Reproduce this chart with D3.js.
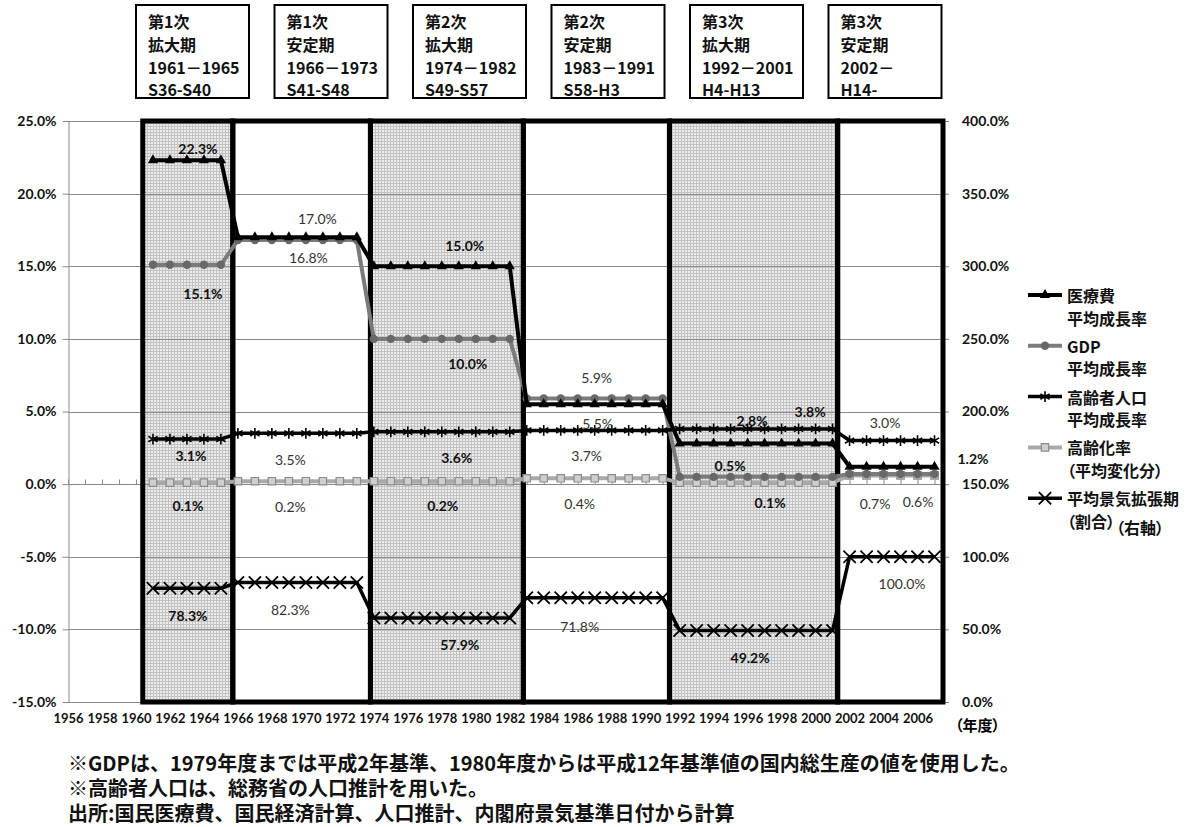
<!DOCTYPE html>
<html>
<head>
<meta charset="utf-8">
<script src="https://cdn.jsdelivr.net/npm/d3@7"></script>
<style>
  body { margin: 0; background: #fff; }
  svg { display: block; }
  .jp { font-family: "Noto Sans CJK JP", "Noto Sans", sans-serif; }
  .num { font-family: Lato, "Noto Sans", sans-serif; }
</style>
</head>
<body>
<svg id="chart" width="1188" height="827"></svg>
<script>
// ---- Business-cycle phases (expansion / stable) ----
const phaseTitles = [
  ["第1次", "拡大期", "1961－1965", "S36-S40"],
  ["第1次", "安定期", "1966－1973", "S41-S48"],
  ["第2次", "拡大期", "1974－1982", "S49-S57"],
  ["第2次", "安定期", "1983－1991", "S58-H3"],
  ["第3次", "拡大期", "1992－2001", "H4-H13"],
  ["第3次", "安定期", "2002－", "H14-"]
];
const phaseStartYear = [1961, 1966, 1974, 1983, 1992, 2002];
const phaseEndYear   = [1965, 1973, 1982, 1991, 2001, 2007];
const phaseShaded    = [true, false, true, false, true, false];
// frame edges of each phase, in fiscal years
const phaseEdges = [1960.4, 1965.7, 1973.8, 1982.8, 1991.4, 2001.3, 2007.5];

// ---- Period averages (%) ----
const medicalGrowth    = [22.3, 17.0, 15.0, 5.5, 2.8, 1.2];   // 医療費 平均成長率
const gdpGrowth        = [15.1, 16.8, 10.0, 5.9, 0.5, 0.7];   // GDP 平均成長率
const elderlyPopGrowth = [3.1, 3.5, 3.6, 3.7, 3.8, 3.0];      // 高齢者人口 平均成長率
const agingRateChange  = [0.1, 0.2, 0.2, 0.4, 0.1, 0.6];      // 高齢化率（平均変化分）
const expansionShare   = [78.3, 82.3, 57.9, 71.8, 49.2, 100.0]; // 平均景気拡張期（割合）右軸

// ---- Axis ticks ----
const leftTicks  = [-15, -10, -5, 0, 5, 10, 15, 20, 25];
const rightTicks = [0, 50, 100, 150, 200, 250, 300, 350, 400];
const yearLabels = [1956, 1958, 1960, 1962, 1964, 1966, 1968, 1970, 1972, 1974, 1976, 1978, 1980,
                    1982, 1984, 1986, 1988, 1990, 1992, 1994, 1996, 1998, 2000, 2002, 2004, 2006];

const notes = [
  "※GDPは、1979年度までは平成2年基準、1980年度からは平成12年基準値の国内総生産の値を使用した。",
  "※高齢者人口は、総務省の人口推計を用いた。",
  "出所:国民医療費、国民経済計算、人口推計、内閣府景気基準日付から計算"
];

// ---- Layout ----
const plot = { left: 68, right: 943, top: 121, bottom: 702 };
const svg = d3.select("#chart");

const x  = d3.scaleLinear().domain([1956, 2007.5]).range([plot.left, plot.right]);
const yL = d3.scaleLinear().domain([-15, 25]).range([plot.bottom, plot.top]);
const yR = d3.scaleLinear().domain([0, 400]).range([plot.bottom, plot.top]);

const fmtPct = v => d3.format(".1f")(v).replace("\u2212", "-") + "%";
const GRID = "#8a8a8a";

// stippled fill for expansion phases
const defs = svg.append("defs");
const pat = defs.append("pattern").attr("id", "stipple")
  .attr("width", 3).attr("height", 3).attr("patternUnits", "userSpaceOnUse");
pat.append("rect").attr("width", 3).attr("height", 3).attr("fill", "#c2c2c2");
pat.append("rect").attr("x", 1).attr("y", 1).attr("width", 2).attr("height", 2).attr("fill", "#ececec");

const phases = phaseStartYear.map((s, i) => ({
  i, start: s, end: phaseEndYear[i], x0: phaseEdges[i], x1: phaseEdges[i + 1], shaded: phaseShaded[i]
}));

svg.append("g").selectAll("rect")
  .data(phases.filter(p => p.shaded)).join("rect")
  .attr("x", p => x(p.x0)).attr("y", yL(25))
  .attr("width", p => x(p.x1) - x(p.x0)).attr("height", yL(-15) - yL(25))
  .attr("fill", "url(#stipple)");

// horizontal gridlines
svg.append("g").selectAll("line").data(leftTicks).join("line")
  .attr("x1", plot.left).attr("x2", plot.right)
  .attr("y1", d => Math.round(yL(d)) + 0.5).attr("y2", d => Math.round(yL(d)) + 0.5)
  .attr("stroke", GRID).attr("stroke-width", 1);

// left axis
const gL = svg.append("g").attr("transform", `translate(${plot.left + 0.5},0)`)
  .call(d3.axisLeft(yL).tickValues(leftTicks).tickFormat(fmtPct).tickSize(6).tickSizeOuter(0).tickPadding(6));
gL.select(".domain").attr("stroke", GRID);
gL.selectAll(".tick line").attr("stroke", GRID);
gL.selectAll("text").attr("class", "num").attr("font-size", 14).attr("font-weight", "bold").attr("fill", "#111");

// right axis
const gR = svg.append("g").attr("transform", `translate(${plot.right},0)`)
  .call(d3.axisRight(yR).tickValues(rightTicks).tickFormat(fmtPct).tickSize(6).tickSizeOuter(0).tickPadding(13));
gR.select(".domain").attr("stroke", GRID);
gR.selectAll(".tick line").attr("stroke", GRID);
gR.selectAll("text").attr("class", "num").attr("font-size", 14).attr("font-weight", "bold").attr("fill", "#111");

// year tick marks on the zero line
const gZ = svg.append("g").attr("transform", `translate(0,${Math.round(yL(0)) + 0.5})`)
  .call(d3.axisTop(x).tickValues(d3.range(1956, 2008)).tickSize(5).tickFormat(""));
gZ.select(".domain").remove();
gZ.selectAll(".tick line").attr("stroke", GRID);

// year labels along the bottom
const gB = svg.append("g").attr("transform", `translate(0,${plot.bottom})`)
  .call(d3.axisBottom(x).tickValues(yearLabels).tickSize(0).tickPadding(12).tickFormat(d3.format("d")));
gB.select(".domain").remove();
gB.selectAll("text").attr("class", "num").attr("font-size", 13).attr("font-weight", "bold").attr("fill", "#111");

svg.append("text").attr("class", "jp")
  .attr("x", 955).attr("y", 724).attr("dominant-baseline", "central")
  .attr("font-size", 15).attr("font-weight", "bold").style("font-feature-settings", "'palt'")
  .text("（年度）");

// phase frames
svg.append("g").selectAll("rect").data(phases).join("rect")
  .attr("x", p => x(p.x0)).attr("y", yL(25))
  .attr("width", p => x(p.x1) - x(p.x0)).attr("height", yL(-15) - yL(25))
  .attr("fill", "none").attr("stroke", "#000").attr("stroke-width", 5);

// ---- Series ----
function yearly(values) {
  const out = [];
  phaseStartYear.forEach((s, i) => {
    for (let yr = s; yr <= phaseEndYear[i]; yr++) out.push({ year: yr, value: values[i], phase: i });
  });
  return out;
}

const series = [
  { key: "aging", values: agingRateChange, y: yL, color: "#a9a9a9", width: 4,
    symbol: d3.symbolSquare, size: 55, fill: "#cfcfcf", stroke: "#8c8c8c", sw: 1.2,
    legend: ["高齢化率", "（平均変化分）"] },
  { key: "gdp", values: gdpGrowth, y: yL, color: "#7b7b7b", width: 4,
    symbol: d3.symbolCircle, size: 55, fill: "#686868", stroke: "none", sw: 0,
    legend: ["GDP", "平均成長率"] },
  { key: "medical", values: medicalGrowth, y: yL, color: "#000", width: 4,
    symbol: d3.symbolTriangle, size: 45, fill: "#000", stroke: "none", sw: 0,
    legend: ["医療費", "平均成長率"] },
  { key: "elderly", values: elderlyPopGrowth, y: yL, color: "#000", width: 3.5,
    symbol: d3.symbolAsterisk, size: 80, fill: "none", stroke: "#000", sw: 1.6,
    legend: ["高齢者人口", "平均成長率"] },
  { key: "expansion", values: expansionShare, y: yR, color: "#000", width: 3.5,
    symbol: d3.symbolTimes, size: 100, fill: "none", stroke: "#000", sw: 1.8,
    legend: ["平均景気拡張期", "（割合）"] }
];

const gS = svg.append("g");
series.forEach(s => {
  const pts = yearly(s.values);
  const line = d3.line().x(d => x(d.year)).y(d => s.y(d.value));
  gS.append("path").datum(pts).attr("d", line)
    .attr("fill", "none").attr("stroke", s.color).attr("stroke-width", s.width)
    .attr("stroke-linejoin", "round");
  gS.append("g").selectAll("path").data(pts).join("path")
    .attr("transform", d => `translate(${x(d.year)},${s.y(d.value)})`)
    .attr("d", d3.symbol(s.symbol, s.size))
    .attr("fill", s.fill).attr("stroke", s.stroke).attr("stroke-width", s.sw);
});

// ---- Value labels: offsets (px) from each phase's mid-year point ----
const labelOffsets = {
  medical:   [[11, -12], [20, -19], [23, -21], [3, 19], [-4, -23], [81, -8]],
  gdp:       [[16, 29], [11, 17], [26, 25], [2, -21], [-26, -11], [-17, 30]],
  elderly:   [[4, 16], [-7, 26], [15, 26], [-8, 25], [54, -17], [-7, -18]],
  aging:     [[1, 23], [-7, 25], [1, 24], [-15, 25], [14, 20], [26, 26]],
  expansion: [[1, 27], [-7, 27], [18, 27], [-15, 29], [-6, 27], [10, 27]]
};

const labels = [];
series.forEach(s => {
  s.values.forEach((v, i) => {
    const mid = (phaseStartYear[i] + phaseEndYear[i]) / 2;
    const off = labelOffsets[s.key][i];
    const outside = x(mid) + off[0] > plot.right;
    labels.push({
      text: fmtPct(v),
      x: x(mid) + off[0],
      y: s.y(v) + off[1],
      bold: phaseShaded[i] || outside
    });
  });
});

svg.append("g").selectAll("text").data(labels).join("text")
  .attr("class", "num")
  .attr("x", d => d.x).attr("y", d => d.y)
  .attr("text-anchor", "middle").attr("dominant-baseline", "central")
  .attr("font-size", 14)
  .attr("font-weight", d => d.bold ? "bold" : "normal")
  .attr("fill", d => d.bold ? "#111" : "#333")
  .text(d => d.text);

// ---- Legend ----
const legendOrder = ["medical", "gdp", "elderly", "aging", "expansion"];
const gLeg = svg.append("g").attr("transform", "translate(1028,295)");
legendOrder.forEach((k, i) => {
  const s = series.find(d => d.key === k);
  const g = gLeg.append("g").attr("transform", `translate(0,${i * 50.8})`);
  g.append("line").attr("x1", 0).attr("x2", 34).attr("y1", 0).attr("y2", 0)
    .attr("stroke", s.color).attr("stroke-width", s.width);
  g.append("path").attr("transform", "translate(17,0)")
    .attr("d", d3.symbol(s.symbol, s.size))
    .attr("fill", s.fill).attr("stroke", s.stroke).attr("stroke-width", s.sw);
  g.selectAll("text").data(s.legend).join("text")
    .attr("class", "jp")
    .attr("x", 39).attr("y", (d, j) => j * 22.5)
    .attr("dominant-baseline", "central")
    .attr("font-size", 16).attr("font-weight", "bold").attr("fill", "#111")
    .style("font-feature-settings", "'palt'")
    .text(d => d);
  if (k === "expansion") {
    g.append("text").attr("class", "jp")
      .attr("x", 88).attr("y", 29).attr("dominant-baseline", "central")
      .attr("font-size", 16).attr("font-weight", "bold").attr("fill", "#111")
      .style("font-feature-settings", "'palt'")
      .text("（右軸）");
  }
});

// ---- Phase title boxes ----
const band = d3.scaleBand().domain(d3.range(phaseTitles.length))
  .range([136, 941.5]).paddingInner(0.184).paddingOuter(0);
const gT = svg.append("g");
phaseTitles.forEach((lines, i) => {
  const g = gT.append("g").attr("transform", `translate(${band(i)},5)`);
  g.append("rect").attr("width", band.bandwidth()).attr("height", 93)
    .attr("fill", "#fff").attr("stroke", "#000").attr("stroke-width", 2);
  g.selectAll("text").data(lines).join("text")
    .attr("class", "jp")
    .attr("x", 12).attr("y", (d, j) => 16 + j * 22.8)
    .attr("dominant-baseline", "central")
    .attr("font-size", 16).attr("font-weight", "bold").attr("fill", "#111")
    .text(d => d);
});

// ---- Footnotes ----
svg.append("g").selectAll("text").data(notes).join("text")
  .attr("class", "jp")
  .attr("x", 68).attr("y", (d, i) => 762 + i * 25)
  .attr("dominant-baseline", "central")
  .attr("font-size", 20).attr("font-weight", "bold").attr("fill", "#111")
  .text(d => d);
</script>
</body>
</html>
